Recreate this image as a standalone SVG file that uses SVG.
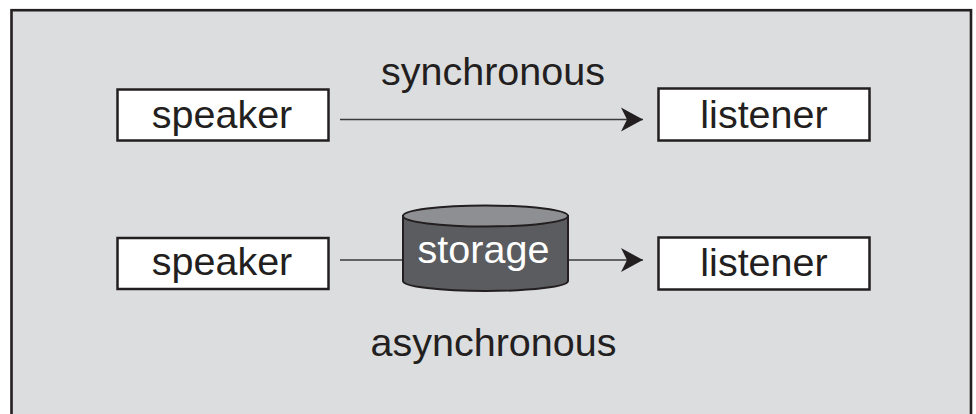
<svg xmlns="http://www.w3.org/2000/svg" width="976" height="414" viewBox="0 0 976 414">
  <style>
    .box { fill: #ffffff; stroke: #231f20; stroke-width: 2.5; }
    .lbl { font-family: "Liberation Sans", Arial, Helvetica, sans-serif; font-size: 39.5px; fill: #231f20; text-anchor: middle; }
    .wht { fill: #ffffff; }
    .conn { stroke: #3a3a3c; stroke-width: 1.3; fill: none; }
  </style>
  <defs>
    <marker id="arr" markerUnits="userSpaceOnUse" markerWidth="26" markerHeight="28" refX="22" refY="12" orient="auto" overflow="visible">
      <path d="M0,0 L22,12 L0,24 L6,12 Z" fill="#231f20"/>
    </marker>
  </defs>
  <rect x="0" y="0" width="976" height="414" fill="#ffffff"/>
  <rect id="frame" x="11.5" y="10.2" width="959.5" height="430" fill="#dcdddf" stroke="#231f20" stroke-width="2.6"/>

  <g id="connectors">
    <line class="conn" x1="340" y1="119.5" x2="643" y2="119.5" marker-end="url(#arr)"/>
    <line class="conn" x1="340" y1="260" x2="403" y2="260"/>
    <line class="conn" x1="568" y1="260" x2="643" y2="260" marker-end="url(#arr)"/>
  </g>

  <g id="speaker1">
    <rect class="box" x="117.5" y="89.5" width="211" height="51"/>
    <text class="lbl" x="222" y="128">speaker</text>
  </g>
  <g id="listener1">
    <rect class="box" x="658.5" y="88.5" width="211" height="52"/>
    <text class="lbl" x="764" y="128">listener</text>
  </g>
  <g id="speaker2">
    <rect class="box" x="117.5" y="238" width="211" height="51"/>
    <text class="lbl" x="222" y="275">speaker</text>
  </g>
  <g id="listener2">
    <rect class="box" x="658.5" y="237.5" width="211" height="52"/>
    <text class="lbl" x="764" y="276">listener</text>
  </g>
  <g id="storage">
    <path d="M403,216 L403,281 A82.5,10 0 0 0 568,281 L568,216 Z" fill="#5b5c5f" stroke="#231f20" stroke-width="2"/>
    <ellipse cx="485.5" cy="216" rx="82.5" ry="10.5" fill="#8e8f92" stroke="#231f20" stroke-width="2"/>
    <text class="lbl wht" x="483.5" y="263">storage</text>
  </g>
  <g id="labels">
    <text class="lbl" x="493" y="85">synchronous</text>
    <text class="lbl" x="493.5" y="356">asynchronous</text>
  </g>
</svg>
